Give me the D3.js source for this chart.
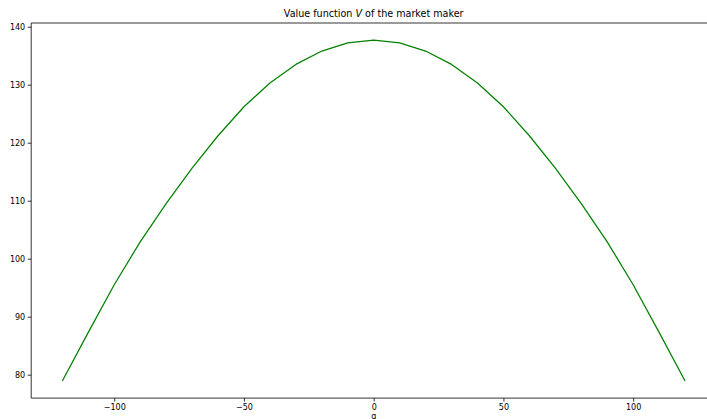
<!DOCTYPE html>
<html>
<head>
<meta charset="utf-8">
<script src="https://cdn.jsdelivr.net/npm/d3@7"></script>
<style>
  html, body { margin: 0; padding: 0; background: #fff; }
  svg { display: block; }
  text { font-family: "DejaVu Sans", sans-serif; fill: #000; }
</style>
</head>
<body>
<svg id="chart" width="707" height="419"></svg>
<script>
// Inventory q of the market maker
const inventory = [-120, -110, -100, -90, -80, -70, -60, -50, -40, -30, -20, -10, 0,
                   10, 20, 30, 40, 50, 60, 70, 80, 90, 100, 110, 120];
// Value function V(q)
const valueV = [78.9, 87.3, 95.5, 102.9, 109.5, 115.6, 121.2, 126.2, 130.3, 133.5, 135.8, 137.2, 137.7,
                137.2, 135.8, 133.5, 130.3, 126.2, 121.2, 115.6, 109.5, 102.9, 95.5, 87.3, 78.9];
const xTicks = [-100, -50, 0, 50, 100];
const yTicks = [80, 90, 100, 110, 120, 130, 140];

const svg = d3.select("#chart");

// Axes box (right edge falls past the page width)
const boxLeft = 31.2, boxRight = 716.2, boxTop = 23, boxBottom = 398.1;

const xPad = (d3.max(inventory) - d3.min(inventory)) * 0.05;
const yPad = (d3.max(valueV) - d3.min(valueV)) * 0.05;

const x = d3.scaleLinear()
  .domain([d3.min(inventory) - xPad, d3.max(inventory) + xPad])
  .range([boxLeft, boxRight]);
const y = d3.scaleLinear()
  .domain([d3.min(valueV) - yPad, d3.max(valueV) + yPad])
  .range([boxBottom, boxTop]);

// Curve
const line = d3.line()
  .x((d, i) => x(inventory[i]))
  .y(d => y(d));

svg.append("path")
  .datum(valueV)
  .attr("d", line)
  .attr("fill", "none")
  .attr("stroke", "#008000")
  .attr("stroke-width", 1.25)
  .attr("stroke-linejoin", "round");

// Axes
const xAxis = d3.axisBottom(x).tickValues(xTicks).tickSize(3.5).tickPadding(2.5).tickFormat(d3.format("d"));
const yAxis = d3.axisLeft(y).tickValues(yTicks).tickSize(3.5).tickPadding(2.5).tickFormat(d3.format("d"));

const gx = svg.append("g").attr("transform", `translate(0,${boxBottom})`).call(xAxis);
const gy = svg.append("g").attr("transform", `translate(${boxLeft},0)`).call(yAxis);

[gx, gy].forEach(g => {
  g.select(".domain").remove();
  g.selectAll(".tick line").attr("stroke", "#000").attr("stroke-width", 0.8);
  g.selectAll(".tick text")
    .attr("font-family", "DejaVu Sans, sans-serif")
    .attr("font-size", 8)
    .attr("fill", "#000");
});

// Spines
const spine = (x1, y1, x2, y2) => svg.append("line")
  .attr("x1", x1).attr("y1", y1).attr("x2", x2).attr("y2", y2)
  .attr("stroke", "#000").attr("stroke-width", 0.8);
spine(boxLeft, boxTop, boxLeft, boxBottom);
spine(boxLeft, boxBottom, boxRight, boxBottom);
spine(boxLeft, boxTop, boxRight, boxTop);
spine(boxRight, boxTop, boxRight, boxBottom);

// Title
const title = svg.append("text")
  .attr("x", (boxLeft + boxRight) / 2)
  .attr("y", 17)
  .attr("text-anchor", "middle")
  .attr("font-size", 9.6);
title.append("tspan").text("Value function ");
title.append("tspan").attr("font-style", "italic").text("V");
title.append("tspan").text(" of the market maker");

// x label
svg.append("text")
  .attr("x", (boxLeft + boxRight) / 2)
  .attr("y", 419)
  .attr("text-anchor", "middle")
  .attr("font-size", 8)
  .text("q");
</script>
</body>
</html>
